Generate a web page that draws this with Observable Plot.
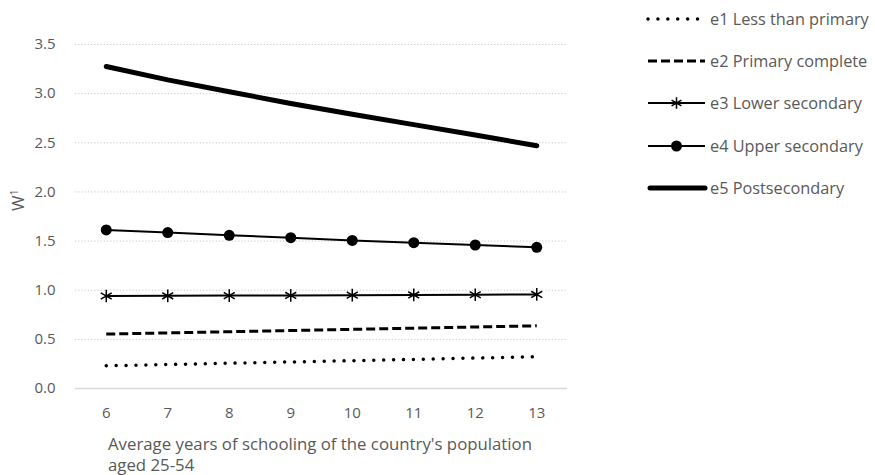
<!DOCTYPE html>
<html>
<head>
<meta charset="utf-8">
<script src="https://cdn.jsdelivr.net/npm/d3@7"></script>
<script src="https://cdn.jsdelivr.net/npm/@observablehq/plot@0.6"></script>
<style>
  html, body { margin: 0; padding: 0; background: #fff; }
  #wrap { position: relative; width: 875px; height: 475px; font-family: "Open Sans", sans-serif; }
  #wrap svg.overlay { position: absolute; left: 0; top: 0; pointer-events: none; }
</style>
</head>
<body>
<div id="wrap"></div>
<script>
const years = [6, 7, 8, 9, 10, 11, 12, 13];
const seriesNames = ["e1 Less than primary", "e2 Primary complete", "e3 Lower secondary", "e4 Upper secondary", "e5 Postsecondary"];
const e1 = [0.231, 0.244, 0.257, 0.270, 0.283, 0.296, 0.310, 0.323];
const e2 = [0.554, 0.566, 0.578, 0.590, 0.602, 0.614, 0.626, 0.638];
const e3 = [0.941, 0.943, 0.945, 0.947, 0.950, 0.952, 0.954, 0.957];
const e4 = [1.613, 1.586, 1.558, 1.535, 1.507, 1.484, 1.460, 1.436];
const e5 = [3.276, 3.140, 3.020, 2.900, 2.790, 2.685, 2.580, 2.470];
const yTicks = [0, 0.5, 1.0, 1.5, 2.0, 2.5, 3.0, 3.5];
const yLabel = "W";
const yLabelSup = "1";
const xTitleLines = ["Average years of schooling of the country's population", "aged 25-54"];

const allSeries = [e1, e2, e3, e4, e5];
const styles = [
  {strokeWidth: 3.5, strokeDasharray: "0.01 9.9", strokeLinecap: "round"},
  {strokeWidth: 3, strokeDasharray: "9 4", strokeLinecap: "butt"},
  {strokeWidth: 2, strokeDasharray: null, strokeLinecap: "butt", symbol: "asterisk"},
  {strokeWidth: 2, strokeDasharray: null, strokeLinecap: "butt", symbol: "circle"},
  {strokeWidth: 5, strokeDasharray: null, strokeLinecap: "round"}
];
const rows = seriesNames.map((name, i) => allSeries[i].map((v, j) => ({series: name, idx: i, year: years[j], value: v}))).flat();

const textColor = "#595959";
const tickFontSize = 15;
const titleFontSize = 16.8;
const legendFontSize = 16.3;
const fontFamily = "'Open Sans', sans-serif";

const marks = [
  Plot.gridY(yTicks.filter(d => d > 0), {stroke: "#c8c8c8", strokeOpacity: 1, strokeDasharray: "1.2 2", strokeWidth: 1}),
  Plot.ruleY([0], {stroke: "#d9d9d9", strokeWidth: 1.5}),
  Plot.axisY({ticks: yTicks, tickFormat: d3.format(".1f"), tickSize: 0, tickPadding: 20, fontSize: tickFontSize, color: textColor, label: null}),
  Plot.axisX({ticks: years, tickFormat: d => String(d), tickSize: 0, tickPadding: 19, fontSize: tickFontSize, color: textColor, label: null})
];
seriesNames.forEach((name, i) => {
  const s = styles[i];
  const data = rows.filter(r => r.idx === i);
  const opts = {x: "year", y: "value", stroke: "black", strokeWidth: s.strokeWidth, strokeLinecap: s.strokeLinecap, strokeLinejoin: "round"};
  if (s.strokeDasharray) opts.strokeDasharray = s.strokeDasharray;
  marks.push(Plot.line(data, opts));
  if (s.symbol === "circle") marks.push(Plot.dot(data, {x: "year", y: "value", r: 5.5, fill: "black", stroke: "none"}));
  if (s.symbol === "asterisk") marks.push(Plot.dot(data, {x: "year", y: "value", r: 6, symbol: "asterisk", stroke: "black", strokeWidth: 1.5}));
});

const chart = Plot.plot({
  width: 875,
  height: 475,
  marginLeft: 75,
  marginRight: 308,
  marginTop: 44,
  marginBottom: 87,
  style: {fontFamily: fontFamily, background: "white"},
  x: {domain: [5.5, 13.5], axis: null},
  y: {domain: [0, 3.5], axis: null},
  marks
});
const wrap = document.getElementById("wrap");
wrap.appendChild(chart);

// overlay: y label, x title, legend
const ov = d3.select(wrap).append("svg").attr("class", "overlay").attr("width", 875).attr("height", 475)
  .style("font-family", fontFamily);
const yl = ov.append("text").attr("transform", "translate(24,200) rotate(-90)").attr("text-anchor", "middle")
  .attr("fill", textColor).attr("font-size", titleFontSize);
yl.append("tspan").text(yLabel);
yl.append("tspan").attr("font-size", 11).attr("dy", -6).text(yLabelSup);

xTitleLines.forEach((t, i) => {
  ov.append("text").attr("x", 108).attr("y", 450 + i * 21).attr("fill", textColor).attr("font-size", titleFontSize).text(t);
});

const legY = [19, 61, 103, 146, 188];
seriesNames.forEach((name, i) => {
  const s = styles[i];
  const g = ov.append("g").attr("transform", `translate(0,${legY[i]})`);
  const ln = g.append("line").attr("x1", s.strokeLinecap === "round" && !s.strokeDasharray ? 650 : 648).attr("x2", 705).attr("y1", 0).attr("y2", 0)
    .attr("stroke", "black").attr("stroke-width", s.strokeWidth).attr("stroke-linecap", s.strokeLinecap);
  if (s.strokeDasharray) ln.attr("stroke-dasharray", s.strokeDasharray);
  if (s.symbol === "circle") g.append("circle").attr("cx", 676.5).attr("cy", 0).attr("r", 5.5).attr("fill", "black");
  if (s.symbol === "asterisk") {
    const sym = d3.symbol(d3.symbolAsterisk, 90)();
    g.append("path").attr("d", sym).attr("transform", "translate(676.5,0)").attr("stroke", "black").attr("stroke-width", 1.5).attr("fill", "none");
  }
  g.append("text").attr("x", 710).attr("y", 0).attr("dy", "0.35em").attr("fill", textColor).attr("font-size", legendFontSize).text(name);
});
</script>
</body>
</html>
